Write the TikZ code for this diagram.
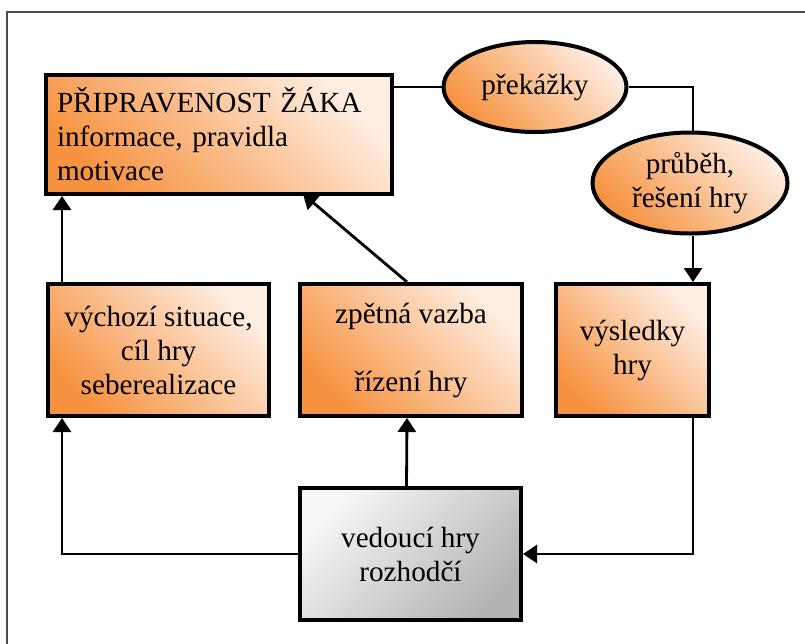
\documentclass[tikz,border=0pt]{standalone}
\usepackage{fontspec}
\setmainfont{Liberation Serif}
\usetikzlibrary{shapes.geometric,arrows.meta}

\definecolor{orgdark}{RGB}{246,146,64}
\definecolor{orglight}{RGB}{254,238,226}
\definecolor{grydark}{RGB}{180,180,180}
\definecolor{grylight}{RGB}{246,246,246}

\tikzset{
  orangebox/.style={draw,line width=2pt,rectangle,top color=orglight,bottom color=orgdark,shading angle=-45,align=center,inner sep=0pt},
  orangeoval/.style={draw,line width=2pt,ellipse,top color=orglight,bottom color=orgdark,shading angle=-45,align=center,inner sep=0pt},
  greybox/.style={draw,line width=2pt,rectangle,top color=grylight,bottom color=grydark,shading angle=45,align=center,inner sep=0pt},
  conn/.style={line width=1.4pt,-{Triangle[length=7pt,width=9pt]}},
  link/.style={line width=1.4pt}
}

\begin{document}
\begin{tikzpicture}[x=0.5pt,y=-0.5pt,font=\fontsize{14.6}{17}\selectfont]
\useasboundingbox (0,0) rectangle (805,644);
\begin{scope}
\clip (0,0) rectangle (805,644);
\draw[line width=1.2pt,black!70] (7,12) rectangle (840,680);
\end{scope}

\node[orangebox,align=left,text width=162pt,inner xsep=5.5pt,minimum height=59.5pt] (prip) at (219,134.5) {PŘIPRAVENOST ŽÁKA\\informace, pravidla\\motivace};
\node[orangeoval,minimum width=91.5pt,minimum height=45pt] (prekazky) at (535,87) {překážky};
\node[orangeoval,minimum width=97.5pt,minimum height=50.5pt] (prubeh) at (690,183) {průběh,\\řešení hry};
\node[orangebox,minimum width=110.5pt,minimum height=66pt] (vychozi) at (158.5,350) {výchozí situace,\\cíl hry\\seberealizace};
\node[orangebox,minimum width=111pt,minimum height=66pt] (zpetna) at (411,350) {zpětná vazba\\[17pt]řízení hry};
\node[orangebox,minimum width=76.5pt,minimum height=66pt] (vysledky) at (632.5,350) {výsledky\\hry};
\node[greybox,minimum width=110.5pt,minimum height=66pt] (vedouci) at (410.5,554) {vedoucí hry\\rozhodčí};

\coordinate (lft) at (62,0);
\coordinate (rgt) at (693,0);
\coordinate (tip) at (303,194);

\draw[link] (prekazky.west) -- (prekazky.west -| prip.east);
\draw[link] (prekazky.east) -| (rgt |- prubeh.north);
\draw[conn] (rgt |- prubeh.south) -- (rgt |- vysledky.north);
\draw[conn] (lft |- vychozi.north) -- (lft |- prip.south);
\draw[conn] ([xshift=-2pt]zpetna.north) -- (tip);
\draw[conn] (vedouci.west) -| (lft |- vychozi.south);
\draw[conn] ([xshift=-2pt]vedouci.north) -- ([xshift=-2pt]zpetna.south);
\draw[conn] (rgt |- vysledky.south) |- (vedouci.east);
\end{tikzpicture}
\end{document}
